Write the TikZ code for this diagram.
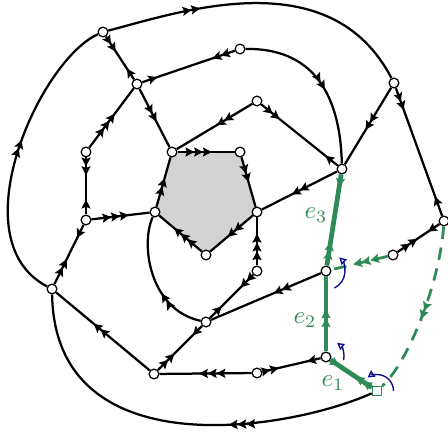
\documentclass[tikz,border=0pt]{standalone}
\usepackage{tikz}
\usetikzlibrary{arrows.meta,decorations.markings,backgrounds}
\definecolor{facegray}{RGB}{211,211,211}
\definecolor{walkgreen}{RGB}{46,139,87}
\definecolor{turnblue}{RGB}{12,12,140}

\begin{document}
\begin{tikzpicture}[
  x=0.4pt, y=0.4pt,
  hd/.tip={Stealth[length=3.5pt,width=3.6pt,inset=0.6pt]},
  vtx/.style={circle, draw, fill=white, line width=0.5pt, inner sep=0pt, minimum size=3.9pt},
  root/.style={rectangle, draw=walkgreen, fill=white, line width=0.5pt, inner sep=0pt, minimum size=3.7pt},
  wire/.style={line width=0.9pt},
  gwalk/.style={line width=1.9pt, walkgreen},
  gdash/.style={line width=1.1pt, walkgreen, dash pattern=on 5pt off 3.5pt},
  turn/.style={line width=0.55pt, turnblue, -{Triangle[open,length=2.8pt,width=3pt]}},
  lab/.style={text=walkgreen, inner sep=1pt},
  a1/.style={postaction={decorate,decoration={markings,mark=at position #1 with {\arrow{hd[]}}}}},
  a2/.style={postaction={decorate,decoration={markings,mark=at position #1 with {\arrow{hd[] hd[]}}}}},
  a3/.style={postaction={decorate,decoration={markings,mark=at position #1 with {\arrow{hd[] hd[] hd[]}}}}},
  r1/.style={postaction={decorate,decoration={markings,mark=at position #1 with {\arrowreversed{hd[]}}}}},
  r2/.style={postaction={decorate,decoration={markings,mark=at position #1 with {\arrowreversed{hd[] hd[]}}}}}
]
\useasboundingbox (0,0) rectangle (448,-432);

\node[vtx] (A) at (103,-32) {};
\node[vtx] (B) at (137,-84) {};
\node[vtx] (C) at (240,-49) {};
\node[vtx] (D) at (394,-83) {};
\node[vtx] (E) at (257,-101) {};
\node[vtx] (F) at (172,-152) {};
\node[vtx] (G) at (240,-152) {};
\node[vtx] (H) at (86,-152) {};
\node[vtx] (I) at (155,-212) {};
\node[vtx] (J) at (257,-212) {};
\node[vtx] (K) at (206,-255) {};
\node[vtx] (L) at (86,-220) {};
\node[vtx] (M) at (342,-169) {};
\node[vtx] (N) at (444,-221) {};
\node[vtx] (O) at (52,-289) {};
\node[vtx] (P) at (257,-271) {};
\node[vtx] (Q) at (326,-271) {};
\node[vtx] (R) at (393,-255) {};
\node[vtx] (S) at (206,-322) {};
\node[vtx] (T) at (326,-357) {};
\node[vtx] (U) at (154,-374) {};
\node[vtx] (V) at (257,-373) {};
\node[root] (W) at (377,-391) {};

\begin{scope}[on background layer]
\fill[facegray] (F.center) -- (G.center) -- (J.center) -- (K.center) -- (I.center) -- cycle;
\end{scope}

\draw[wire, a2=0.3] (A) .. controls (180,-12) and (330,40) .. (D);
\draw[wire, a2=0.35, r1=0.75] (A) -- (B);
\draw[wire, a2=0.55] (O) .. controls (-42,-240) and (40,-60) .. (A);
\draw[wire, a2=0.24, r1=0.84] (C) -- (B);
\draw[wire, a2=0.56] (B) -- (F);
\draw[wire, a3=0.57] (H) -- (B);
\draw[wire, a2=0.55] (C) .. controls (310,-48) and (340,-90) .. (M);
\draw[wire, a2=0.55] (D) -- (M);
\draw[wire, a2=0.17, r1=0.85] (D) -- (N);
\draw[wire, a2=0.47] (E) -- (F);
\draw[wire, a2=0.24, r1=0.84] (E) -- (M);
\draw[wire, a3=0.6] (F) -- (G);
\draw[wire, a2=0.5] (G) -- (J);
\draw[wire, a2=0.59] (J) -- (K);
\draw[wire, a3=0.65] (K) -- (I);
\draw[wire, a2=0.58] (I) -- (F);
\draw[wire, a3=0.64] (L) -- (I);
\draw[wire, a2=0.31, r1=0.74] (H) -- (L);
\draw[wire, a1=0.22, r2=0.58] (L) -- (O);
\draw[wire, a2=0.6] (M) -- (J);
\draw[wire, a3=0.66] (P) -- (J);
\draw[wire, a2=0.29, r1=0.73] (P) -- (S);
\draw[wire, a1=0.21, r2=0.63] (S) -- (U);
\draw[wire, a2=0.38] (S) .. controls (150,-310) and (140,-245) .. (I);
\draw[wire, a2=0.6] (U) -- (O);
\draw[wire, a2=0.43] (Q) -- (S);
\draw[wire, a3=0.57] (V) -- (U);
\draw[wire, a2=0.28, r1=0.77] (V) -- (T);
\draw[wire, a3=0.37] (W) .. controls (290,-430) and (55,-470) .. (O);
\draw[wire, a2=0.47, r1=0.73] (R) -- (N);

\draw[gdash, a2=0.55] (N) .. controls (440,-280) and (410,-360) .. (W);
\draw[gdash, a3=0.61] (R) -- (Q);
\draw[gwalk, a2=0.26, r1=0.86] (Q) -- (M);
\draw[gwalk, a2=0.56] (T) -- (Q);
\draw[gwalk, a2=0.39, r1=0.8] (W) -- (T);

\draw[turn] (W.center) ++(0:6.6pt) arc[start angle=0, end angle=125, radius=6.6pt];
\draw[turn] (T.center) ++(-10:7.2pt) arc[start angle=-10, end angle=52, radius=7.2pt];
\draw[turn] (Q.center) ++(-64:7.6pt) arc[start angle=-64, end angle=46, radius=7.6pt];

\node[lab] (e1) at (333,-383) {$e_1$};
\node[lab] (e2) at (305,-320) {$e_2$};
\node[lab] (e3) at (316,-215) {$e_3$};
\end{tikzpicture}
\end{document}
